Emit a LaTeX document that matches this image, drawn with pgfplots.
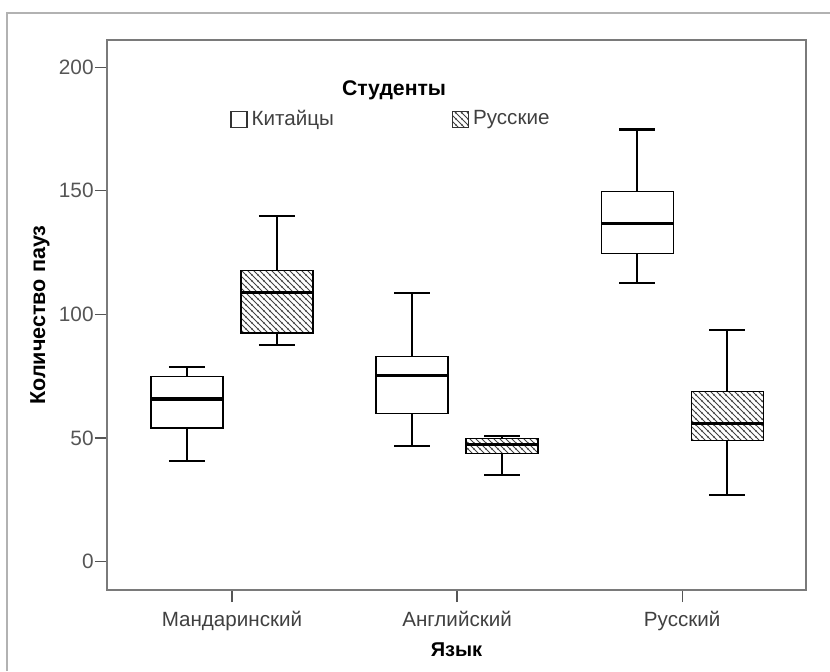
\documentclass[border=0pt]{standalone}
\usepackage{fontspec}
\setmainfont{Liberation Sans}
\usepackage{pgfplots}
\pgfplotsset{compat=1.18}
\usetikzlibrary{patterns}
\definecolor{tickgray}{HTML}{555555}
\definecolor{framegray}{HTML}{7A7A7A}
\pgfdeclarepatternformonly{myhatch}{\pgfqpoint{-1pt}{-1pt}}{\pgfqpoint{4pt}{4pt}}{\pgfqpoint{3pt}{3pt}}{%
  \pgfsetlinewidth{0.5pt}%
  \pgfpathmoveto{\pgfqpoint{-0.2pt}{3.2pt}}%
  \pgfpathlineto{\pgfqpoint{3.2pt}{-0.2pt}}%
  \pgfpathmoveto{\pgfqpoint{-0.3pt}{0.3pt}}%
  \pgfpathlineto{\pgfqpoint{0.3pt}{-0.3pt}}%
  \pgfpathmoveto{\pgfqpoint{2.7pt}{3.3pt}}%
  \pgfpathlineto{\pgfqpoint{3.3pt}{2.7pt}}%
  \pgfusepath{stroke}}
\tikzset{hatch/.style={pattern=myhatch,pattern color=black!75}}
\pgfplotsset{
  boxc/.style={draw=black, line width=0.65pt, fill=white},
  boxr/.style={draw=black, line width=0.65pt, hatch},
  med/.style={black, line width=1.65pt},
  whisk/.style={black, line width=0.85pt},
  cap/.style={black, line width=1.05pt},
}
\begin{document}
\begin{tikzpicture}
\useasboundingbox (0pt,0pt) rectangle (415pt,-335.5pt);
\draw[black!30,line width=0.8pt] (3.5pt,-335.5pt) -- (3.5pt,-6.5pt) -- (415pt,-6.5pt);
\begin{axis}[
  at={(53.5pt,-295pt)}, anchor=south west,
  width=349.5pt, height=275pt, scale only axis,
  xmin=0.445, xmax=3.55, ymin=-11.5, ymax=211,
  xtick={1,2,3},
  xticklabels={Мандаринский,Английский,Русский},
  ytick={0,50,100,150,200},
  xtick pos=bottom, ytick pos=left,
  tick align=outside, major tick length=6pt,
  tick style={tickgray, line width=0.6pt},
  axis line style={framegray, line width=0.8pt},
  ticklabel style={font=\fontsize{10.4}{12}\selectfont, text=tickgray},
  yticklabel style={inner sep=0.5pt},
  yticklabel={\pgfmathprintnumber[assume math mode=true]{\tick}},
  xticklabel style={font=\fontsize{10.3}{12}\selectfont, text=black!75, yshift=-1pt},
  xlabel={\textbf{Язык}},
  ylabel={\textbf{Количество пауз}},
  xlabel style={font=\fontsize{10}{12}\selectfont, at={(axis description cs:0.5,-0.108)}, anchor=center},
  ylabel style={font=\fontsize{10.8}{12}\selectfont, at={(axis description cs:-0.096,0.5)}, anchor=center},
  legend style={draw=none, fill=none, at={(axis description cs:0.176,0.856)}, anchor=west,
    font=\fontsize{10.3}{12}\selectfont, text=black!75, inner sep=0pt,
    /tikz/every even column/.append style={column sep=57pt}},
  legend columns=2,
]
\addlegendimage{legend image code/.code={\draw[black!80,line width=0.6pt,fill=white] (0pt,-4pt) rectangle (8pt,4pt);}}
\addlegendentry{Китайцы}
\addlegendimage{legend image code/.code={\draw[black!80,line width=0.6pt,hatch] (0pt,-4pt) rectangle (8pt,4pt);}}
\addlegendentry{Русские}

% ---- Mandarin: Chinese (center 0.8) -- whiskers 40.7/78.8, box 54.0-74.8, median 65.8
\addplot[whisk] coordinates {(0.8,40.7) (0.8,54.0)};
\addplot[whisk] coordinates {(0.8,74.8) (0.8,78.8)};
\addplot[cap] coordinates {(0.72,40.7) (0.88,40.7)};
\addplot[cap] coordinates {(0.72,78.8) (0.88,78.8)};
\addplot[boxc] coordinates {(0.64,54.0) (0.96,54.0) (0.96,74.8) (0.64,74.8)} -- cycle;
\addplot[med] coordinates {(0.64,65.8) (0.96,65.8)};
% ---- Mandarin: Russian (center 1.2) -- 87.8/139.9, box 92.5-117.8, median 108.8
\addplot[whisk] coordinates {(1.2,87.8) (1.2,92.5)};
\addplot[whisk] coordinates {(1.2,117.8) (1.2,139.9)};
\addplot[cap] coordinates {(1.12,87.8) (1.28,87.8)};
\addplot[cap] coordinates {(1.12,139.9) (1.28,139.9)};
\addplot[boxr] coordinates {(1.04,92.5) (1.36,92.5) (1.36,117.8) (1.04,117.8)} -- cycle;
\addplot[med] coordinates {(1.04,108.8) (1.36,108.8)};
% ---- English: Chinese (center 1.8) -- 46.9/108.8, box 59.9-82.9, median 75.3
\addplot[whisk] coordinates {(1.8,46.9) (1.8,59.9)};
\addplot[whisk] coordinates {(1.8,82.9) (1.8,108.8)};
\addplot[cap] coordinates {(1.72,46.9) (1.88,46.9)};
\addplot[cap] coordinates {(1.72,108.8) (1.88,108.8)};
\addplot[boxc] coordinates {(1.64,59.9) (1.96,59.9) (1.96,82.9) (1.64,82.9)} -- cycle;
\addplot[med] coordinates {(1.64,75.3) (1.96,75.3)};
% ---- English: Russian (center 2.2) -- 35.0/50.9, box 43.6-49.8, median 47.5
\addplot[whisk] coordinates {(2.2,35.0) (2.2,43.6)};
\addplot[whisk] coordinates {(2.2,49.8) (2.2,50.9)};
\addplot[cap] coordinates {(2.12,35.0) (2.28,35.0)};
\addplot[cap] coordinates {(2.12,50.9) (2.28,50.9)};
\addplot[boxr] coordinates {(2.04,43.6) (2.36,43.6) (2.36,49.8) (2.04,49.8)} -- cycle;
\addplot[med] coordinates {(2.04,47.5) (2.36,47.5)};
% ---- Russian: Chinese (center 2.8) -- 112.8/174.8, box 124.7-149.6, median 136.7
\addplot[whisk] coordinates {(2.8,112.8) (2.8,124.7)};
\addplot[whisk] coordinates {(2.8,149.6) (2.8,174.8)};
\addplot[cap] coordinates {(2.72,112.8) (2.88,112.8)};
\addplot[cap] coordinates {(2.72,174.8) (2.88,174.8)};
\addplot[boxc] coordinates {(2.64,124.7) (2.96,124.7) (2.96,149.6) (2.64,149.6)} -- cycle;
\addplot[med] coordinates {(2.64,136.7) (2.96,136.7)};
% ---- Russian: Russian (center 3.2) -- 26.9/93.8, box 48.9-68.9, median 55.8
\addplot[whisk] coordinates {(3.2,26.9) (3.2,48.9)};
\addplot[whisk] coordinates {(3.2,68.9) (3.2,93.8)};
\addplot[cap] coordinates {(3.12,26.9) (3.28,26.9)};
\addplot[cap] coordinates {(3.12,93.8) (3.28,93.8)};
\addplot[boxr] coordinates {(3.04,48.9) (3.36,48.9) (3.36,68.9) (3.04,68.9)} -- cycle;
\addplot[med] coordinates {(3.04,55.8) (3.36,55.8)};

\node[font=\fontsize{10.6}{12}\selectfont\bfseries] at (axis cs:1.72,190.8) {Студенты};
\end{axis}
\end{tikzpicture}
\end{document}
